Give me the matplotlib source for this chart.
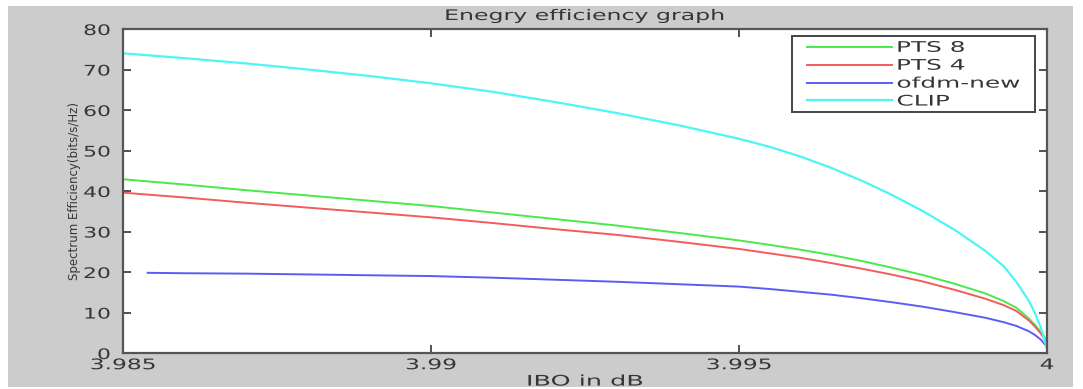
import matplotlib
matplotlib.use('Agg')
import matplotlib.pyplot as plt
from matplotlib.patches import Rectangle
from matplotlib.patheffects import AbstractPathEffect
from matplotlib.transforms import Affine2D
from matplotlib.legend_handler import HandlerLine2D

# values
ibo = [3.985, 3.986, 3.987, 3.988, 3.989, 3.990, 3.991, 3.992, 3.993, 3.994, 3.995,
       3.9955, 3.996, 3.9965, 3.997, 3.9975, 3.998, 3.9985, 3.999, 3.9993, 3.9995,
       3.9997, 3.9998, 3.9999, 4.0]
pts8 = [42.9, 41.6, 40.2, 38.9, 37.6, 36.3, 34.7, 33.1, 31.5, 29.7, 27.8,
        26.7, 25.5, 24.2, 22.7, 21.0, 19.2, 17.1, 14.7, 12.8, 11.2,
        8.6, 7.0, 5.2, 3.0]
pts4 = [39.6, 38.4, 37.1, 35.9, 34.7, 33.5, 32.1, 30.6, 29.2, 27.5, 25.7,
        24.6, 23.5, 22.2, 20.8, 19.3, 17.6, 15.6, 13.4, 11.8, 10.4,
        8.1, 6.6, 4.8, 2.5]
clip = [74.0, 72.8, 71.5, 70.0, 68.4, 66.6, 64.5, 62.0, 59.3, 56.3, 52.9,
        50.9, 48.5, 45.7, 42.5, 38.9, 34.9, 30.4, 25.2, 21.4, 17.6,
        13.0, 10.0, 6.3, 1.0]

ibo_ofdm = [3.9854, 3.986, 3.987, 3.988, 3.989, 3.990, 3.991, 3.992, 3.993, 3.994, 3.995,
            3.9955, 3.996, 3.9965, 3.997, 3.9975, 3.998, 3.9985, 3.999, 3.9993, 3.9995,
            3.9997, 3.9998, 3.9999, 4.0]
ofdm_new = [19.8, 19.7, 19.6, 19.4, 19.2, 19.0, 18.6, 18.1, 17.6, 17.0, 16.4,
            15.8, 15.1, 14.4, 13.5, 12.5, 11.4, 10.1, 8.7, 7.6, 6.7,
            5.4, 4.5, 3.3, 1.5]


class HStretch(AbstractPathEffect):
    """widen text horizontally, like the squashed screenshot"""
    def __init__(self, sx, anchor='center'):
        super().__init__()
        self.sx = sx
        self.anchor = anchor

    def draw_path(self, renderer, gc, tpath, affine, rgbFace=None):
        ext = tpath.get_extents()
        if self.anchor == 'left':
            cx = ext.x0
        elif self.anchor == 'right':
            cx = ext.x1
        else:
            cx = (ext.x0 + ext.x1) / 2
        st = Affine2D().translate(-cx, 0).scale(self.sx, 1).translate(cx, 0)
        renderer.draw_path(gc, tpath, st + affine, rgbFace)


plt.rcParams['font.family'] = ['DejaVu Sans']
txt = '#363636'

fig = plt.figure(figsize=(10.83, 3.89), dpi=100, facecolor='white')
# grey MATLAB-like window background
bg = Rectangle((0.0074, 0.005), 0.9834, 0.9796, transform=fig.transFigure,
               facecolor='#cccccc', edgecolor='none', zorder=-10)
fig.patches.append(bg)

ax = fig.add_axes([0.1136, 0.0925, 0.8532, 0.8329])
ax.set_zorder(5)
ax.set_facecolor('white')

ax.plot(ibo, pts8, color='#4be84b', lw=1.4, label='PTS 8')
ax.plot(ibo, pts4, color='#f25c5c', lw=1.4, label='PTS 4')
ax.plot(ibo_ofdm, ofdm_new, color='#5c5cf5', lw=1.4, label='ofdm-new')
ax.plot(ibo, clip, color='#4df5f5', lw=1.6, label='CLIP')

ax.set_xlim(3.985, 4.0)
ax.set_ylim(0, 80)
ax.set_xticks([3.985, 3.99, 3.995, 4.0])
ax.set_xticklabels(['3.985', '3.99', '3.995', '4'])
ax.set_yticks(range(0, 81, 10))

ax.tick_params(direction='in', length=6, width=1.2, top=True, right=True,
               labelsize=10.5, colors='#333333', labelcolor=txt)
ax.tick_params(axis='y', pad=9)
ax.tick_params(axis='x', pad=3)
for sp in ax.spines.values():
    sp.set_color('#555555')
    sp.set_linewidth(1.6)

for lab in ax.get_xticklabels():
    lab.set_path_effects([HStretch(1.6)])
for lab in ax.get_yticklabels():
    lab.set_path_effects([HStretch(1.5, 'right')])

t = ax.set_title('Enegry efficiency graph', fontsize=10.5, color=txt, pad=6.5)
t.set_path_effects([HStretch(1.62)])
xl = ax.set_xlabel('IBO in dB', fontsize=10.5, color=txt, labelpad=1)
xl.set_path_effects([HStretch(1.75)])
ax.set_ylabel('Spectrum Efficiency(bits/s/Hz)', fontsize=8.5, color=txt, labelpad=8)

leg = ax.legend(loc='upper right', bbox_to_anchor=(0.724, 0.5, 0.263, 0.478),
                mode='expand', borderaxespad=0,
                fontsize=10.5, handlelength=6.6, handletextpad=0.35, labelspacing=0.2,
                borderpad=0.25, fancybox=False, framealpha=1, edgecolor='#444444',
                handler_map={plt.Line2D: HandlerLine2D(xpad=0.8)})
leg.get_frame().set_linewidth(1.4)
for tt in leg.get_texts():
    tt.set_color(txt)
    tt.set_path_effects([HStretch(1.7, 'left')])

fig.savefig('out.png', dpi=100, facecolor=fig.get_facecolor())
